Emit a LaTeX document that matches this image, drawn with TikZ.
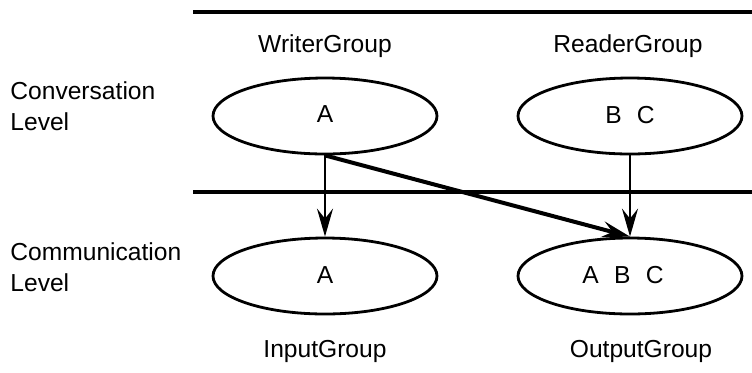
\documentclass[tikz,border=0pt]{standalone}
\usepackage{fontspec}
\setmainfont{Liberation Sans}
\usetikzlibrary{shapes.geometric,arrows.meta}

\newcommand{\grpfont}{\fontsize{12.3}{15}\selectfont}
\newcommand{\gap}{\hspace{0.62em}}

\tikzset{
  group/.style={ellipse, draw, line width=1.4pt, minimum width=112pt,
    minimum height=38pt, inner sep=0pt, font=\grpfont},
  grouplabel/.style={inner sep=0pt, anchor=base, font=\grpfont},
  levellabel/.style={inner sep=0pt, anchor=base west, font=\grpfont},
  rule/.style={line width=1.6pt},
  flow/.style={line width=1.2pt, -{Stealth[length=14pt,width=8pt,inset=5pt]}},
  crossflow/.style={flow, line width=2pt}
}

\begin{document}
\begin{tikzpicture}[x=0.5pt,y=-0.5pt]
  \useasboundingbox[fill=white] (0,0) rectangle (752,372);

  % level separators
  \coordinate (topL) at (193,12);
  \coordinate (topR) at (752,12);
  \coordinate (midL) at (193,192);
  \coordinate (midR) at (752,192);
  \draw[rule] (topL) -- (topR);
  \draw[rule] (midL) -- (midR);

  % level names
  \node[levellabel] (conv1) at (10,99) {Conversation};
  \node[levellabel] (conv2) at (10,130) {Level};
  \node[levellabel] (comm1) at (10,260) {Communication};
  \node[levellabel] (comm2) at (10,291) {Level};

  % groups
  \node[group] (writer) at (325,116) {\raisebox{1.5pt}{A}};
  \node[group] (reader) at (630,116) {\raisebox{1.5pt}{B\gap C}};
  \node[group] (input)  at (325,276) {\raisebox{0.7pt}{A}};
  \node[group] (output) at (630,276) {\raisebox{1pt}{A\gap B\gap C\hspace{7pt}}};

  % group names
  \node[grouplabel] (wname) at (325,52)  {WriterGroup};
  \node[grouplabel] (rname) at (628,52)  {ReaderGroup};
  \node[grouplabel] (iname) at (325,357) {InputGroup};
  \node[grouplabel] (oname) at (641,357) {OutputGroup};

  % mappings between levels
  \draw[flow] (writer.south) -- (input.north);
  \draw[flow] (reader.south) -- (output.north);
  \draw[crossflow] (writer.south) -- (output.north);
\end{tikzpicture}
\end{document}
